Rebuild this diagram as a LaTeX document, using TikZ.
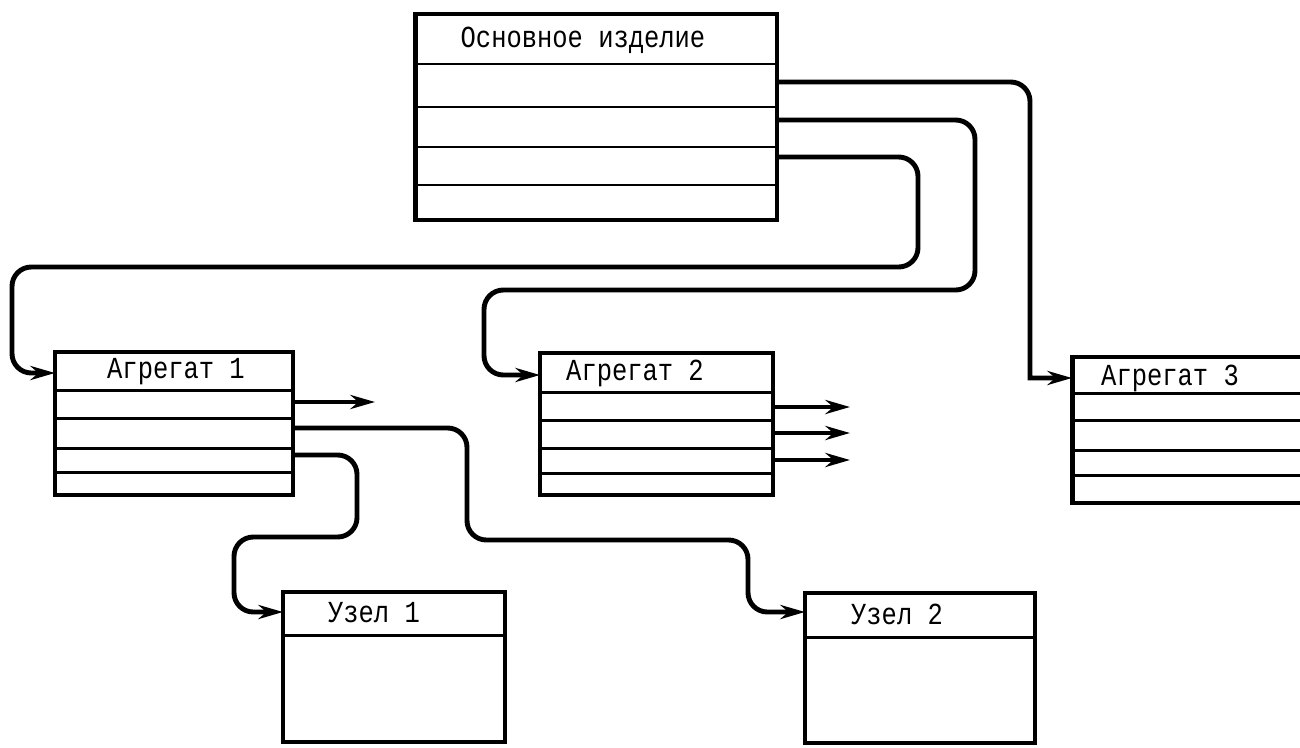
\documentclass[tikz,border=0pt]{standalone}
\usepackage{fontspec}
\setmonofont{Liberation Mono}
\usetikzlibrary{arrows.meta}
\newcommand{\boxlabel}[1]{\scalebox{1}[1.2]{#1}}
\begin{document}
\begin{tikzpicture}[x=0.02cm,y=-0.02cm,
  box/.style={draw,line width=2.8pt,inner sep=0pt,outer sep=0pt},
  rowline/.style={line width=1.7pt},
  conn/.style={line width=2.8pt,rounded corners=11pt,-{Stealth[length=14pt,width=8pt]}},
  lbl/.style={font=\ttfamily\fontsize{14.5}{16}\selectfont,inner sep=0pt}]
\useasboundingbox[fill=white] (0,0) rectangle (1300,747);

% boxes
\node[box,minimum width=7.24cm,minimum height=4.12cm] (main) at (596,117) {};
\node[box,minimum width=4.76cm,minimum height=2.86cm] (ag1) at (174,423.5) {};
\node[box,minimum width=4.66cm,minimum height=2.84cm] (ag2) at (656.5,424) {};
\node[box,minimum width=4.76cm,minimum height=2.92cm] (ag3) at (1191,430) {};
\node[box,minimum width=4.44cm,minimum height=3.0cm] (uz1) at (394,667) {};
\node[box,minimum width=4.6cm,minimum height=3.0cm] (uz2) at (920,668) {};

% row lines
\foreach \y in {64,107,147,185} \draw[rowline] (main.west |- 0,\y) -- (main.east |- 0,\y);
\foreach \y in {390,418,448,472} \draw[rowline] (ag1.west |- 0,\y) -- (ag1.east |- 0,\y);
\foreach \y in {392,420,448,473} \draw[rowline] (ag2.west |- 0,\y) -- (ag2.east |- 0,\y);
\foreach \y in {393,420,450,475} \draw[rowline] (ag3.west |- 0,\y) -- (ag3.east |- 0,\y);
\draw[rowline] (uz1.west |- 0,635) -- (uz1.east |- 0,635);
\draw[rowline] (uz2.west |- 0,637) -- (uz2.east |- 0,637);

% labels
\node[lbl] (tmain) at (583,40) {\boxlabel{Основное изделие}};
\node[lbl] (tag1) at (176,372) {\boxlabel{Агрегат 1}};
\node[lbl] (tag2) at (635,373) {\boxlabel{Агрегат 2}};
\node[lbl] (tag3) at (1170,378) {\boxlabel{Агрегат 3}};
\node[lbl] (tuz1) at (374,613) {\boxlabel{Узел 1}};
\node[lbl] (tuz2) at (897,614) {\boxlabel{Узел 2}};

% free ends
\coordinate (f1) at (375,402);
\coordinate (f2) at (850,407);
\coordinate (f3) at (850,433);
\coordinate (f4) at (850,460);

% connectors from main
\draw[conn] (main.east |- 0,82) -- (1030,82) [sharp corners] -- (1030,378) -- (ag3.west |- 0,378);
\draw[conn] (main.east |- 0,120) -- (975,120) -- (975,290) -- (484,290) -- (484,375) -- (ag2.west |- 0,375);
\draw[conn] (main.east |- 0,157) -- (918,157) -- (918,267) -- (12,267) -- (12,373) -- (ag1.west |- 0,373);

% connectors from ag1
\draw[conn] (ag1.east |- 0,402) -- (f1);
\draw[conn] (ag1.east |- 0,428) -- (467,428) -- (467,540) -- (748,540) -- (748,612) -- (uz2.west |- 0,612);
\draw[conn] (ag1.east |- 0,455) -- (357,455) -- (357,537) -- (234,537) -- (234,612) -- (uz1.west |- 0,612);

% connectors from ag2
\draw[conn] (ag2.east |- f2) -- (f2);
\draw[conn] (ag2.east |- f3) -- (f3);
\draw[conn] (ag2.east |- f4) -- (f4);
\end{tikzpicture}
\end{document}
